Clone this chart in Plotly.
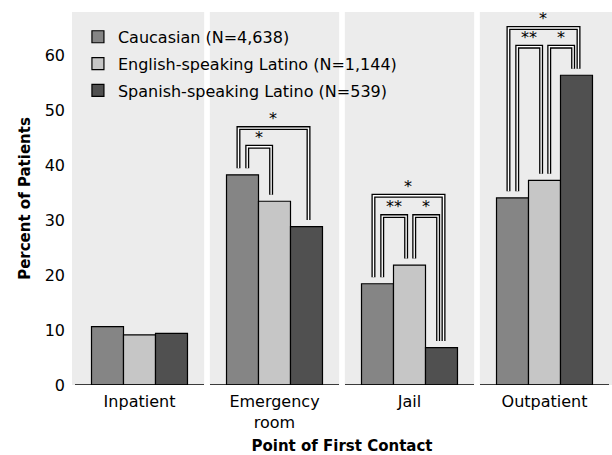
import plotly.graph_objects as go

# ---- data ----
categories = ["Inpatient", "Emergency<br>room", "Jail", "Outpatient"]
series_names = ["Caucasian (N=4,638)", "English-speaking Latino (N=1,144)", "Spanish-speaking Latino (N=539)"]
caucasian = [10.6, 38.2, 18.4, 34.0]
english_latino = [9.1, 33.4, 21.8, 37.2]
spanish_latino = [9.4, 28.8, 6.8, 56.3]
y_ticks = [0, 10, 20, 30, 40, 50, 60]

# significance brackets: (category index, bar i, bar j, label)
brackets = [
    (1, 0, 1, "*"), (1, 0, 2, "*"),
    (2, 0, 1, "**"), (2, 1, 2, "*"), (2, 0, 2, "*"),
    (3, 0, 1, "**"), (3, 1, 2, "*"), (3, 0, 2, "*"),
]
bracket_levels = [43.3, 46.7, 30.7, 30.7, 34.4, 61.5, 61.5, 64.9]

# ---- style ----
colors = ["#858585", "#c6c6c6", "#505050"]
FONT = "DejaVu Sans"
BARGAP = 0.289
bar_w = (1 - BARGAP) / 3

series = [caucasian, english_latino, spanish_latino]
fig = go.Figure()
for k, (name, vals) in enumerate(zip(series_names, series)):
    fig.add_trace(go.Bar(
        x=list(range(len(categories))), y=vals, name=name,
        marker=dict(color=colors[k], line=dict(color="black", width=1.2)),
        legendgroup=f"g{k}",
    ))

shapes = []
# white separators between panels
for b in range(len(categories) - 1):
    shapes.append(dict(type="rect", xref="x", yref="paper", x0=b + 0.5 - 0.021, x1=b + 0.5 + 0.021,
                       y0=0, y1=1, fillcolor="white", line=dict(width=0), layer="below"))
# broken x-axis baseline
for c in range(len(categories)):
    shapes.append(dict(type="line", xref="x", yref="y", x0=c - 0.478, x1=c + 0.478, y0=0, y1=0,
                       line=dict(color="black", width=1.5), layer="above"))

annotations = []
for (c, i, j, lab), lvl in zip(brackets, bracket_levels):
    outer = (j - i) == 2
    xi = c + (i - 1) * bar_w + (-0.03 if outer else 0.035)
    xj = c + (j - 1) * bar_w + (0.015 if outer else -0.025)
    yi = series[i][c] + 1.2
    yj = series[j][c] + 1.2
    path = f"M {xi},{yi} L {xi},{lvl} L {xj},{lvl} L {xj},{yj}"
    shapes.append(dict(type="path", xref="x", yref="y", path=path,
                       line=dict(color="black", width=4), layer="above"))
    shapes.append(dict(type="path", xref="x", yref="y", path=path,
                       line=dict(color="white", width=1.4), layer="above"))
    annotations.append(dict(x=(xi + xj) / 2, y=lvl, xref="x", yref="y", text=lab, showarrow=False,
                            yanchor="bottom", yshift=-2, font=dict(family=FONT, size=16, color="black")))

fig.update_layout(
    width=612, height=455,
    margin=dict(l=72, r=0, t=12, b=70),
    paper_bgcolor="white", plot_bgcolor="#ececec",
    barmode="group", bargap=BARGAP, bargroupgap=0,
    font=dict(family=FONT, size=16, color="black"),
    showlegend=True,
    legend=dict(x=0.011, y=0.979, xanchor="left", yanchor="top", bgcolor="rgba(0,0,0,0)",
                font=dict(family=FONT, size=16), tracegroupgap=3, traceorder="grouped"),
    shapes=shapes, annotations=annotations,
    xaxis=dict(tickmode="array", tickvals=list(range(len(categories))), ticktext=categories,
               range=[-0.5, len(categories) - 0.5], showline=False, showgrid=False, zeroline=False,
               ticks="", tickfont=dict(family=FONT, size=16), automargin=False, ticklabelstandoff=5,
               title=dict(text="<b>Point of First Contact</b>", font=dict(family=FONT, size=15), standoff=9)),
    yaxis=dict(range=[0, 67.8], tickvals=y_ticks, showgrid=False, zeroline=False, showline=False,
               ticks="", tickfont=dict(family=FONT, size=16), automargin=False, ticklabelstandoff=6,
               title=dict(text="<b>Percent of Patients</b>", font=dict(family=FONT, size=15), standoff=10)),
)

fig.write_html("out.html", config={"staticPlot": True, "displayModeBar": False},
               post_script="document.body.style.margin='0';document.body.style.overflow='hidden';")
